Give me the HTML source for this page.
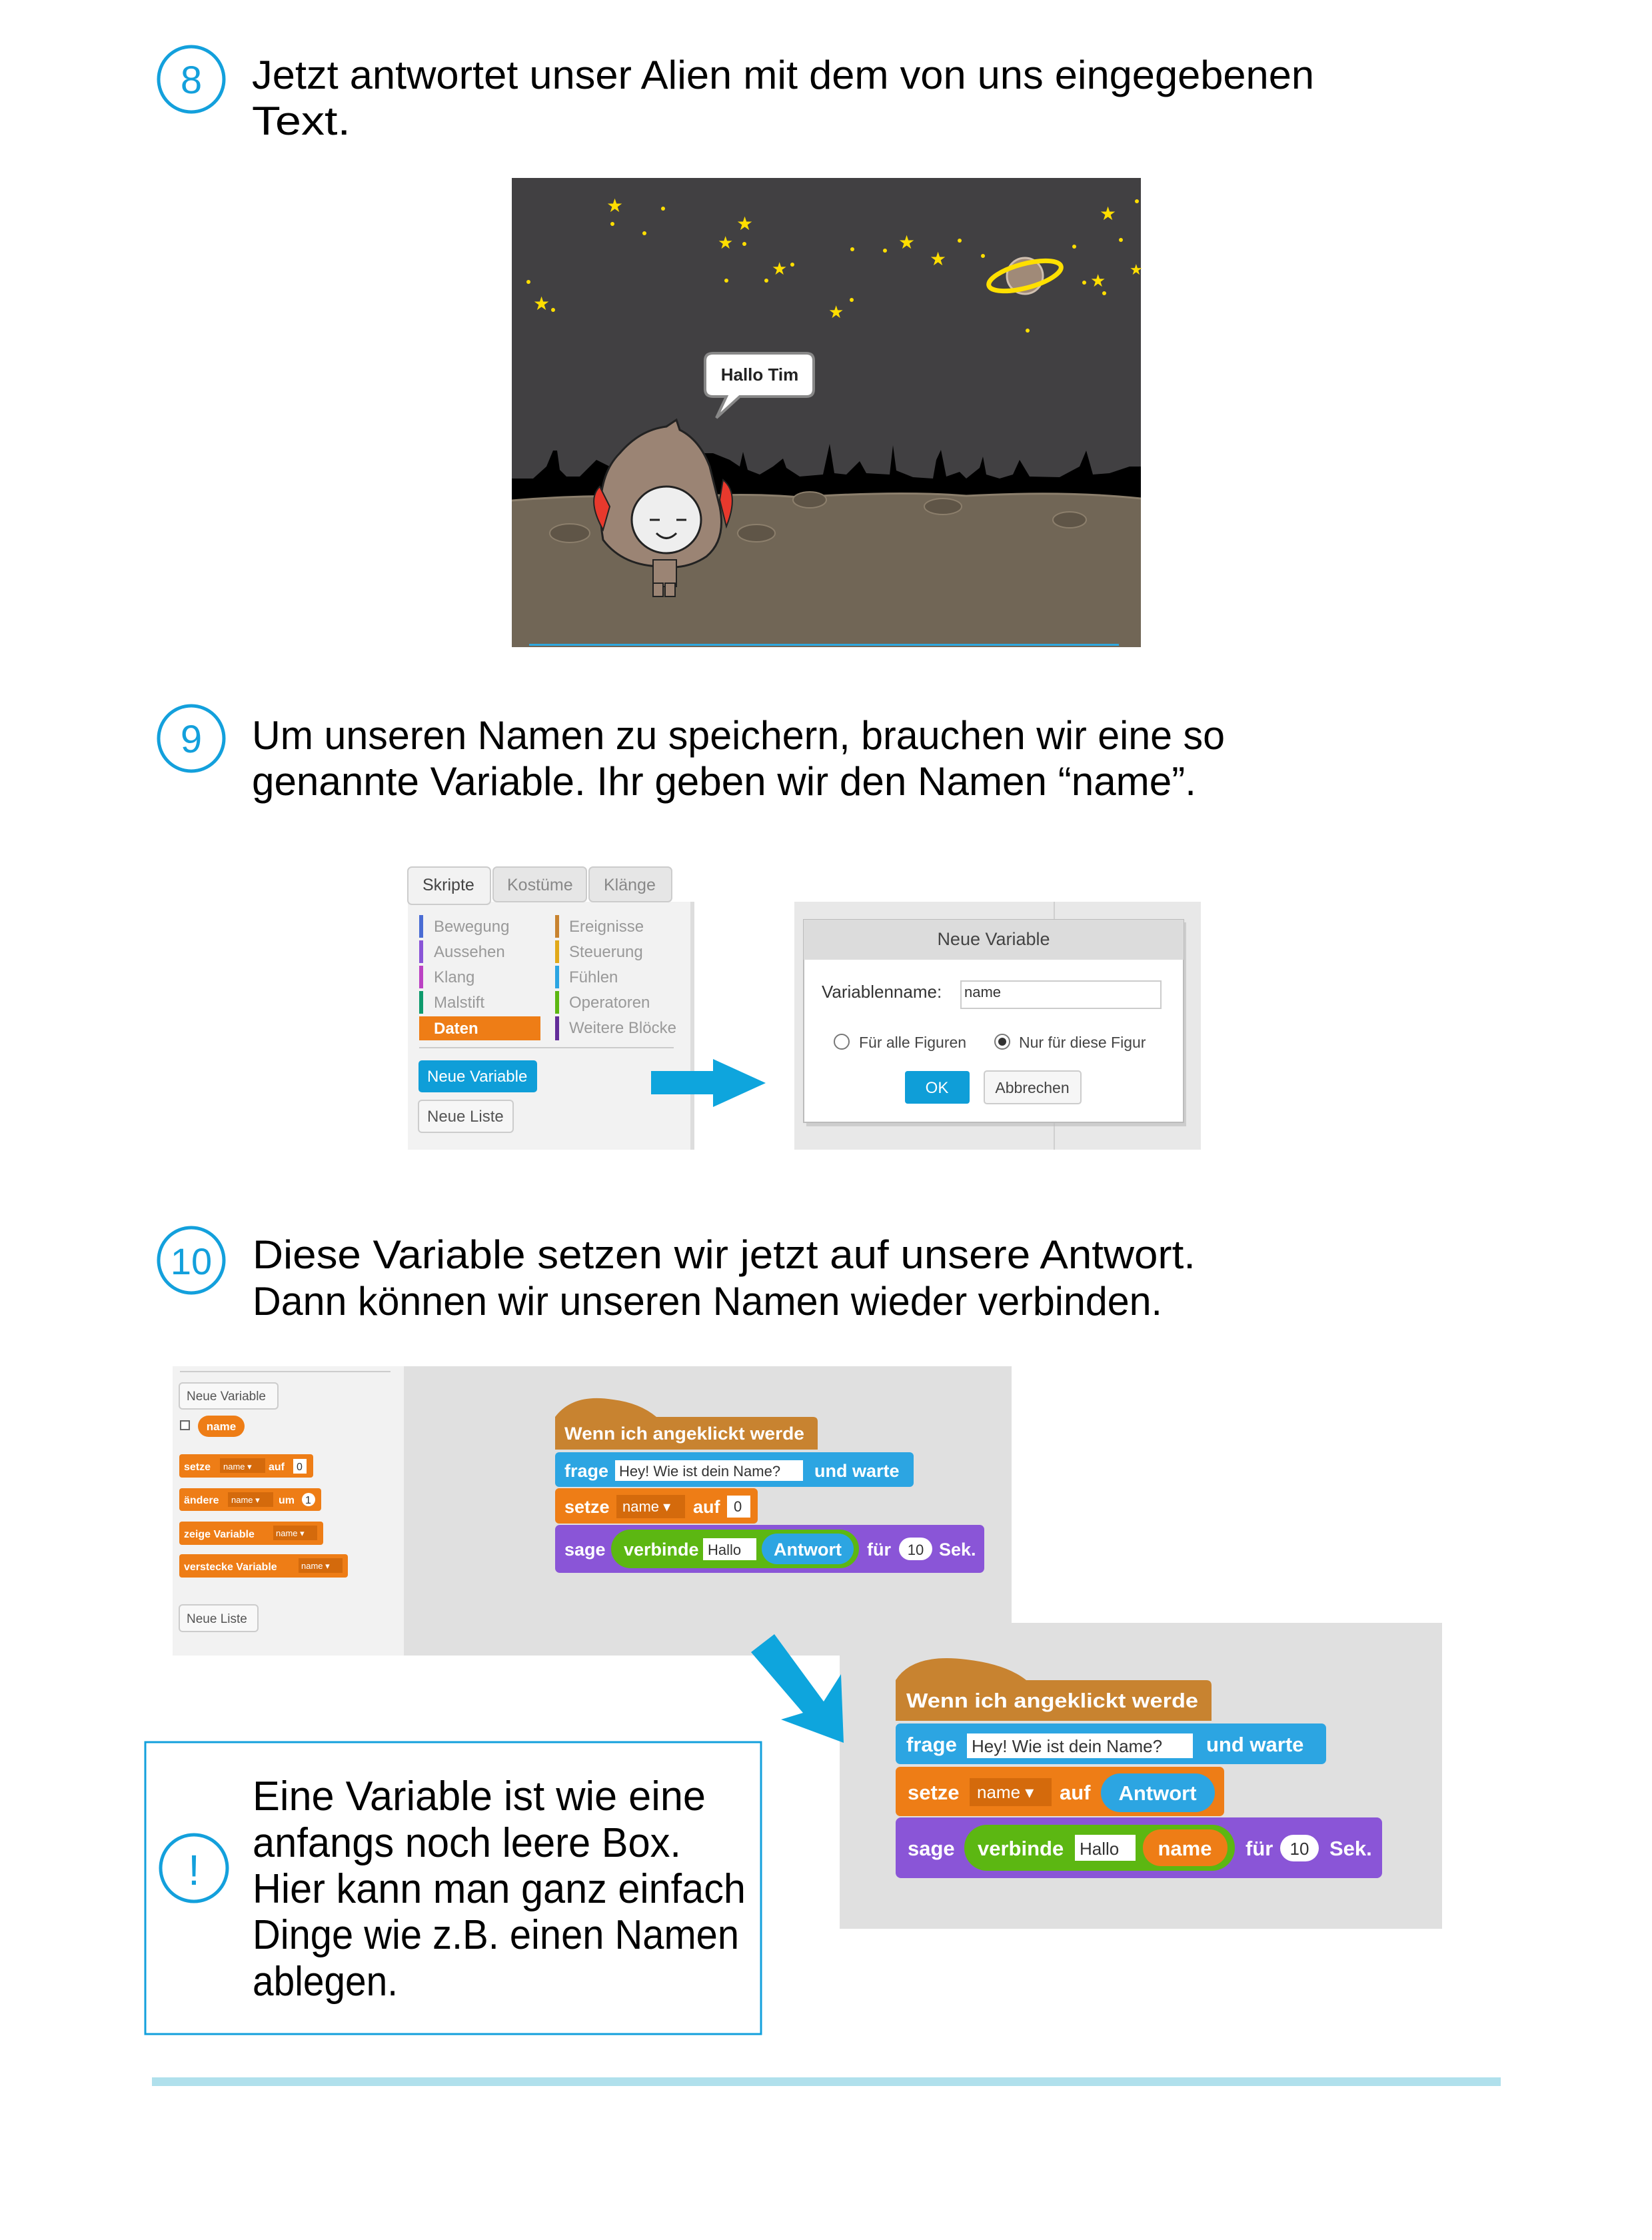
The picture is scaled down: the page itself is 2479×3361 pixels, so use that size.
<!DOCTYPE html>
<html><head><meta charset="utf-8"><style>html,body{margin:0;padding:0;background:#fff}svg{display:block}</style></head>
<body>
<svg width="2479" height="3361" viewBox="0 0 2479 3361" xmlns="http://www.w3.org/2000/svg" font-family="Liberation Sans, sans-serif">
<rect width="2479" height="3361" fill="#fff"/>
<!-- Section 8 -->
<ellipse cx="287" cy="119" rx="49" ry="49" fill="none" stroke="#13a0dc" stroke-width="5"/>
<text x="287" y="140" font-size="58" fill="#13a0dc" text-anchor="middle">8</text>
<text x="378" y="133" font-size="60" textLength="1594" lengthAdjust="spacingAndGlyphs">Jetzt antwortet unser Alien mit dem von uns eingegebenen</text>
<text x="378" y="202" font-size="60" textLength="148" lengthAdjust="spacingAndGlyphs">Text.</text>
<!-- stage -->
<rect x="768" y="267" width="944" height="704" fill="#414042"/>
<path d="M768 751 L768 718 L800 718 L820 700 L830 676 L836 676 L840 705 L850 715 L870 715 L880 705 L895 690 L915 700 L940 720 L960 712 L980 705 L1010 690 L1040 680 L1070 680 L1095 690 L1110 700 L1115 678 L1122 705 L1140 712 L1160 700 L1175 688 L1180 702 L1200 715 L1235 712 L1245 666 L1252 710 L1270 712 L1290 692 L1300 710 L1335 712 L1340 668 L1345 706 L1370 716 L1400 718 L1405 690 L1412 675 L1420 715 L1440 708 L1450 718 L1470 702 L1475 685 L1480 712 L1500 718 L1520 712 L1530 690 L1545 715 L1590 716 L1620 700 L1630 676 L1640 712 L1665 710 L1695 700 L1712 700 L1712 751 Z" fill="#000"/>
<path d="M768 751 Q900 740 1000 748 Q1100 738 1200 746 Q1350 736 1450 744 Q1600 736 1712 748 L1712 971 L768 971 Z" fill="#716656"/>
<path d="M768 751 Q900 740 1000 748 Q1100 738 1200 746 Q1350 736 1450 744 Q1600 736 1712 748" fill="none" stroke="#8c7f6c" stroke-width="3"/>
<g fill="#5f5547" stroke="#8c7f6c" stroke-width="2">
<ellipse cx="1215" cy="750" rx="25" ry="12"/><ellipse cx="1415" cy="760" rx="28" ry="12"/><ellipse cx="1605" cy="780" rx="25" ry="12"/><ellipse cx="855" cy="800" rx="30" ry="14"/><ellipse cx="1135" cy="800" rx="28" ry="13"/>
</g>
<rect x="794" y="966" width="885" height="3" fill="#2ea8e0"/>
<g fill="#ffde00">
<text x="910" y="318" font-size="28">★</text><text x="1105" y="345" font-size="28">★</text><text x="1077" y="373" font-size="26">★</text><text x="1158" y="412" font-size="26">★</text><text x="1348" y="373" font-size="28">★</text><text x="1395" y="398" font-size="28">★</text><text x="1650" y="330" font-size="28">★</text><text x="1636" y="430" font-size="26">★</text><text x="800" y="465" font-size="28">★</text><text x="1243" y="477" font-size="26">★</text><text x="1695" y="412" font-size="22">★</text>
<circle cx="995" cy="313" r="3"/><circle cx="919" cy="336" r="3"/><circle cx="967" cy="350" r="3"/><circle cx="1117" cy="366" r="3"/><circle cx="1189" cy="397" r="3"/><circle cx="1090" cy="421" r="3"/><circle cx="1150" cy="421" r="3"/><circle cx="793" cy="423" r="3"/><circle cx="1279" cy="374" r="3"/><circle cx="1328" cy="376" r="3"/><circle cx="1440" cy="361" r="3"/><circle cx="1475" cy="384" r="3"/><circle cx="1612" cy="370" r="3"/><circle cx="1682" cy="360" r="3"/><circle cx="1627" cy="424" r="3"/><circle cx="1657" cy="440" r="3"/><circle cx="1278" cy="450" r="3"/><circle cx="1542" cy="496" r="3"/><circle cx="830" cy="465" r="3"/><circle cx="1706" cy="302" r="3"/>
</g>
<circle cx="1538" cy="414" r="27" fill="#a08a78" stroke="#d0c0b0" stroke-width="3"/>
<ellipse cx="1538" cy="414" rx="56" ry="18" fill="none" stroke="#ffe000" stroke-width="7" transform="rotate(-15 1538 414)"/>
<!-- bubble -->
<path d="M1070 530 L1210 530 Q1221 530 1221 541 L1221 584 Q1221 595 1210 595 L1110 595 L1075 627 L1090 595 L1070 595 Q1058 595 1058 584 L1058 541 Q1058 530 1070 530 Z" fill="#fff" stroke="#888" stroke-width="4"/>
<text x="1140" y="571" font-size="26" font-weight="bold" text-anchor="middle" fill="#222">Hallo Tim</text>
<!-- character -->
<path d="M905 810 Q890 720 930 680 Q960 645 1000 640 L1015 630 L1020 645 Q1050 660 1065 700 L1080 760 Q1090 810 1060 835 Q1030 855 995 850 Q935 850 905 810 Z" fill="#9b8474" stroke="#222" stroke-width="3"/>
<path d="M900 730 Q880 750 905 795 L915 760 Z" fill="#e8392d" stroke="#222" stroke-width="2"/>
<path d="M1085 720 Q1110 740 1090 790 L1080 750 Z" fill="#e8392d" stroke="#222" stroke-width="2"/>
<ellipse cx="1000" cy="780" rx="52" ry="50" fill="#eee" stroke="#222" stroke-width="3"/>
<path d="M975 780 l15 0 M1015 780 l15 0 M985 800 q15 15 30 0" stroke="#222" stroke-width="3" fill="none"/>
<rect x="980" y="840" width="35" height="40" fill="#9b8474" stroke="#222" stroke-width="2"/>
<rect x="980" y="875" width="15" height="20" fill="#9b8474" stroke="#222" stroke-width="2"/><rect x="998" y="875" width="15" height="20" fill="#9b8474" stroke="#222" stroke-width="2"/>

<!-- Section 9 -->
<ellipse cx="287" cy="1108" rx="49" ry="49" fill="none" stroke="#13a0dc" stroke-width="5"/>
<text x="287" y="1129" font-size="58" fill="#13a0dc" text-anchor="middle">9</text>
<text x="378" y="1124" font-size="60" textLength="1460" lengthAdjust="spacingAndGlyphs">Um unseren Namen zu speichern, brauchen wir eine so</text>
<text x="378" y="1193" font-size="60" textLength="1417" lengthAdjust="spacingAndGlyphs">genannte Variable. Ihr geben wir den Namen “name”.</text>
<!-- palette -->
<rect x="612" y="1353" width="430" height="372" fill="#f2f2f2"/>
<rect x="1036" y="1353" width="6" height="372" fill="#ddd"/>
<rect x="612" y="1301" width="124" height="56" rx="6" fill="#f2f2f2" stroke="#ccc" stroke-width="2"/>
<rect x="740" y="1301" width="140" height="52" rx="6" fill="#e6e6e6" stroke="#ccc" stroke-width="2"/>
<rect x="884" y="1301" width="124" height="52" rx="6" fill="#e6e6e6" stroke="#ccc" stroke-width="2"/>
<g font-size="25" fill="#444"><text x="634" y="1336">Skripte</text></g>
<g font-size="25" fill="#888"><text x="761" y="1336">Kostüme</text><text x="906" y="1336">Klänge</text></g>
<g font-size="24" fill="#999">
<rect x="629" y="1373" width="6" height="34" fill="#4a6cd4"/><text x="651" y="1398">Bewegung</text>
<rect x="629" y="1411" width="6" height="34" fill="#8a55d7"/><text x="651" y="1436">Aussehen</text>
<rect x="629" y="1449" width="6" height="34" fill="#bb42c3"/><text x="651" y="1474">Klang</text>
<rect x="629" y="1487" width="6" height="34" fill="#0e9a6c"/><text x="651" y="1512">Malstift</text>
<rect x="629" y="1525" width="182" height="36" fill="#ee7d16"/><text x="651" y="1551" fill="#fff" font-weight="bold">Daten</text>
<rect x="833" y="1373" width="6" height="34" fill="#c88330"/><text x="854" y="1398">Ereignisse</text>
<rect x="833" y="1411" width="6" height="34" fill="#e1a91a"/><text x="854" y="1436">Steuerung</text>
<rect x="833" y="1449" width="6" height="34" fill="#2ca5e2"/><text x="854" y="1474">Fühlen</text>
<rect x="833" y="1487" width="6" height="34" fill="#5cb712"/><text x="854" y="1512">Operatoren</text>
<rect x="833" y="1525" width="6" height="36" fill="#632d99"/><text x="854" y="1550">Weitere Blöcke</text>
</g>
<rect x="629" y="1571" width="382" height="2" fill="#ccc"/>
<rect x="628" y="1591" width="178" height="48" rx="5" fill="#0f9ed8"/><text x="641" y="1623" font-size="24" fill="#fff">Neue Variable</text>
<rect x="628" y="1651" width="142" height="48" rx="5" fill="#f6f6f6" stroke="#ccc" stroke-width="2"/><text x="641" y="1683" font-size="24" fill="#555">Neue Liste</text>
<!-- arrow -->
<path d="M977 1607 L1070 1607 L1070 1589 L1149 1625 L1070 1661 L1070 1642 L977 1642 Z" fill="#0ea5dd"/>
<!-- dialog -->
<rect x="1192" y="1353" width="610" height="372" fill="#e8e8e8"/>
<rect x="1581" y="1353" width="2" height="372" fill="#d0d0d0"/>
<rect x="1210" y="1384" width="570" height="306" fill="#bbb" opacity="0.6"/>
<rect x="1206" y="1380" width="570" height="304" fill="#fff" stroke="#bbb" stroke-width="2"/>
<rect x="1206" y="1380" width="570" height="60" fill="#dcdcdc"/>
<text x="1491" y="1418" font-size="27" fill="#444" text-anchor="middle">Neue Variable</text>
<text x="1233" y="1497" font-size="26" fill="#333">Variablenname:</text>
<rect x="1442" y="1472" width="300" height="41" fill="#fff" stroke="#ccc" stroke-width="2"/>
<text x="1447" y="1496" font-size="22" fill="#333">name</text>
<circle cx="1263" cy="1563" r="11" fill="#fff" stroke="#777" stroke-width="2"/>
<text x="1289" y="1572" font-size="23" fill="#444">Für alle Figuren</text>
<circle cx="1504" cy="1563" r="11" fill="#fff" stroke="#777" stroke-width="2"/><circle cx="1504" cy="1563" r="6" fill="#333"/>
<text x="1529" y="1572" font-size="23" fill="#444">Nur für diese Figur</text>
<rect x="1358" y="1607" width="97" height="49" rx="4" fill="#0f9ed8"/><text x="1406" y="1640" font-size="24" fill="#fff" text-anchor="middle">OK</text>
<rect x="1477" y="1607" width="145" height="49" rx="4" fill="#f6f6f6" stroke="#ccc" stroke-width="2"/><text x="1549" y="1640" font-size="23" fill="#444" text-anchor="middle">Abbrechen</text>

<!-- Section 10 -->
<ellipse cx="287" cy="1891" rx="49" ry="49" fill="none" stroke="#13a0dc" stroke-width="5"/>
<text x="287" y="1912" font-size="56" fill="#13a0dc" text-anchor="middle">10</text>
<text x="379" y="1903" font-size="60" textLength="1415" lengthAdjust="spacingAndGlyphs">Diese Variable setzen wir jetzt auf unsere Antwort.</text>
<text x="379" y="1973" font-size="60" textLength="1365" lengthAdjust="spacingAndGlyphs">Dann können wir unseren Namen wieder verbinden.</text>

<!-- script image 1 -->
<rect x="259" y="2050" width="347" height="434" fill="#f2f2f2"/>
<rect x="606" y="2050" width="912" height="434" fill="#e0e0e0"/>
<rect x="270" y="2057" width="316" height="2" fill="#ccc"/>
<rect x="269" y="2075" width="148" height="39" rx="5" fill="#f8f8f8" stroke="#ccc" stroke-width="2"/><text x="280" y="2101" font-size="19" fill="#555">Neue Variable</text>
<rect x="271" y="2132" width="13" height="13" fill="#fff" stroke="#666" stroke-width="2"/>
<rect x="297" y="2124" width="70" height="32" rx="16" fill="#ee7d16"/><text x="332" y="2146" font-size="17" fill="#fff" font-weight="bold" text-anchor="middle">name</text>
<g font-size="16" font-weight="bold" fill="#fff">
<rect x="269" y="2182" width="201" height="35" rx="4" fill="#ee7d16"/><text x="276" y="2206">setze</text><rect x="330" y="2188" width="68" height="22" fill="#d46a0c"/><text x="335" y="2205" font-size="13" font-weight="normal">name ▾</text><text x="403" y="2206">auf</text><rect x="440" y="2189" width="20" height="22" fill="#fff"/><text x="445" y="2206" fill="#333" font-weight="normal">0</text>
<rect x="269" y="2233" width="213" height="34" rx="4" fill="#ee7d16"/><text x="276" y="2256">ändere</text><rect x="342" y="2239" width="68" height="22" fill="#d46a0c"/><text x="347" y="2255" font-size="13" font-weight="normal">name ▾</text><text x="418" y="2256">um</text><circle cx="463" cy="2250" r="10" fill="#fff"/><text x="458" y="2256" fill="#333" font-weight="normal">1</text>
<rect x="269" y="2283" width="216" height="35" rx="4" fill="#ee7d16"/><text x="276" y="2307">zeige Variable</text><rect x="410" y="2289" width="66" height="22" fill="#d46a0c"/><text x="414" y="2305" font-size="13" font-weight="normal">name ▾</text>
<rect x="269" y="2332" width="253" height="35" rx="4" fill="#ee7d16"/><text x="276" y="2356">verstecke Variable</text><rect x="448" y="2338" width="66" height="22" fill="#d46a0c"/><text x="452" y="2354" font-size="13" font-weight="normal">name ▾</text>
</g>
<rect x="269" y="2408" width="118" height="40" rx="5" fill="#f8f8f8" stroke="#ccc" stroke-width="2"/><text x="280" y="2435" font-size="19" fill="#555">Neue Liste</text>
<!-- script 1 blocks -->
<g font-weight="bold" fill="#fff" font-size="27">
<path d="M833 2126 Q860 2090 920 2100 Q960 2105 985 2126 L1220 2126 Q1227 2126 1227 2133 L1227 2175 L833 2175 Z" fill="#c88330"/>
<text x="847" y="2160" textLength="360" lengthAdjust="spacingAndGlyphs">Wenn ich angeklickt werde</text>
<rect x="833" y="2179" width="538" height="52" rx="6" fill="#2ca5e2"/>
<text x="847" y="2216">frage</text><rect x="923" y="2191" width="282" height="31" fill="#fff"/><text x="929" y="2215" font-size="22" font-weight="normal" fill="#333">Hey! Wie ist dein Name?</text><text x="1222" y="2216">und warte</text>
<rect x="833" y="2233" width="304" height="53" rx="6" fill="#ee7d16"/>
<text x="847" y="2270">setze</text><rect x="925" y="2243" width="103" height="35" fill="#d46a0c"/><text x="934" y="2268" font-size="22" font-weight="normal">name ▾</text><text x="1040" y="2270">auf</text><rect x="1091" y="2244" width="35" height="33" fill="#fff"/><text x="1101" y="2268" font-size="22" font-weight="normal" fill="#333">0</text>
<rect x="833" y="2288" width="644" height="72" rx="7" fill="#8a55d7"/>
<text x="847" y="2334">sage</text>
<rect x="917" y="2295" width="372" height="58" rx="29" fill="#5cb712"/>
<text x="936" y="2334">verbinde</text><rect x="1055" y="2308" width="80" height="33" fill="#fff"/><text x="1062" y="2333" font-size="22" font-weight="normal" fill="#333">Hallo</text>
<rect x="1143" y="2301" width="138" height="46" rx="23" fill="#2ca5e2"/><text x="1212" y="2334" text-anchor="middle">Antwort</text>
<text x="1301" y="2334">für</text><rect x="1349" y="2307" width="50" height="34" rx="17" fill="#fff"/><text x="1374" y="2333" text-anchor="middle" font-size="22" font-weight="normal" fill="#333">10</text><text x="1409" y="2334">Sek.</text>
</g>

<!-- script image 2 -->
<rect x="1260" y="2435" width="904" height="459" fill="#e0e0e0"/>
<g font-weight="bold" fill="#fff" font-size="31">
<path d="M1344 2521 Q1370 2480 1450 2490 Q1510 2497 1540 2521 L1810 2521 Q1818 2521 1818 2529 L1818 2582 L1344 2582 Z" fill="#c88330"/>
<text x="1360" y="2562" textLength="438" lengthAdjust="spacingAndGlyphs">Wenn ich angeklickt werde</text>
<rect x="1344" y="2586" width="646" height="61" rx="7" fill="#2ca5e2"/>
<text x="1360" y="2628">frage</text><rect x="1451" y="2601" width="339" height="37" fill="#fff"/><text x="1458" y="2629" font-size="26" font-weight="normal" fill="#333">Hey! Wie ist dein Name?</text><text x="1810" y="2628">und warte</text>
<rect x="1344" y="2651" width="493" height="74" rx="7" fill="#ee7d16"/>
<text x="1362" y="2700">setze</text><rect x="1455" y="2668" width="123" height="42" fill="#d46a0c"/><text x="1466" y="2698" font-size="26" font-weight="normal">name ▾</text><text x="1590" y="2700">auf</text>
<rect x="1652" y="2661" width="171" height="58" rx="29" fill="#2ca5e2"/><text x="1737" y="2701" text-anchor="middle">Antwort</text>
<rect x="1344" y="2727" width="730" height="91" rx="8" fill="#8a55d7"/>
<text x="1362" y="2784">sage</text>
<rect x="1447" y="2738" width="406" height="69" rx="34" fill="#5cb712"/>
<text x="1467" y="2784">verbinde</text><rect x="1613" y="2753" width="91" height="39" fill="#fff"/><text x="1620" y="2783" font-size="26" font-weight="normal" fill="#333">Hallo</text>
<rect x="1715" y="2745" width="127" height="55" rx="27" fill="#ee7d16"/><text x="1778" y="2784" text-anchor="middle">name</text>
<text x="1869" y="2784">für</text><rect x="1921" y="2753" width="58" height="40" rx="20" fill="#fff"/><text x="1950" y="2783" text-anchor="middle" font-size="26" font-weight="normal" fill="#333">10</text><text x="1995" y="2784">Sek.</text>
</g>
<!-- diagonal arrow -->
<path d="M1127 2479 L1162 2452 L1236 2553 L1262 2512 L1266 2615 L1172 2580 L1205 2570 Z" fill="#0ea5dd"/>

<!-- info box -->
<rect x="218" y="2614" width="924" height="438" fill="none" stroke="#13a0dc" stroke-width="3"/>
<ellipse cx="291" cy="2803" rx="50" ry="50" fill="none" stroke="#13a0dc" stroke-width="5"/>
<text x="291" y="2828" font-size="64" fill="#13a0dc" text-anchor="middle">!</text>
<g font-size="62" fill="#000">
<text x="379" y="2716" textLength="680" lengthAdjust="spacingAndGlyphs">Eine Variable ist wie eine</text>
<text x="379" y="2786" textLength="643" lengthAdjust="spacingAndGlyphs">anfangs noch leere Box.</text>
<text x="379" y="2855" textLength="740" lengthAdjust="spacingAndGlyphs">Hier kann man ganz einfach</text>
<text x="379" y="2924" textLength="730" lengthAdjust="spacingAndGlyphs">Dinge wie z.B. einen Namen</text>
<text x="379" y="2994" textLength="218" lengthAdjust="spacingAndGlyphs">ablegen.</text>
</g>
<rect x="228" y="3117" width="2024" height="13" fill="#b0e0ec"/>
</svg>
</body></html>
